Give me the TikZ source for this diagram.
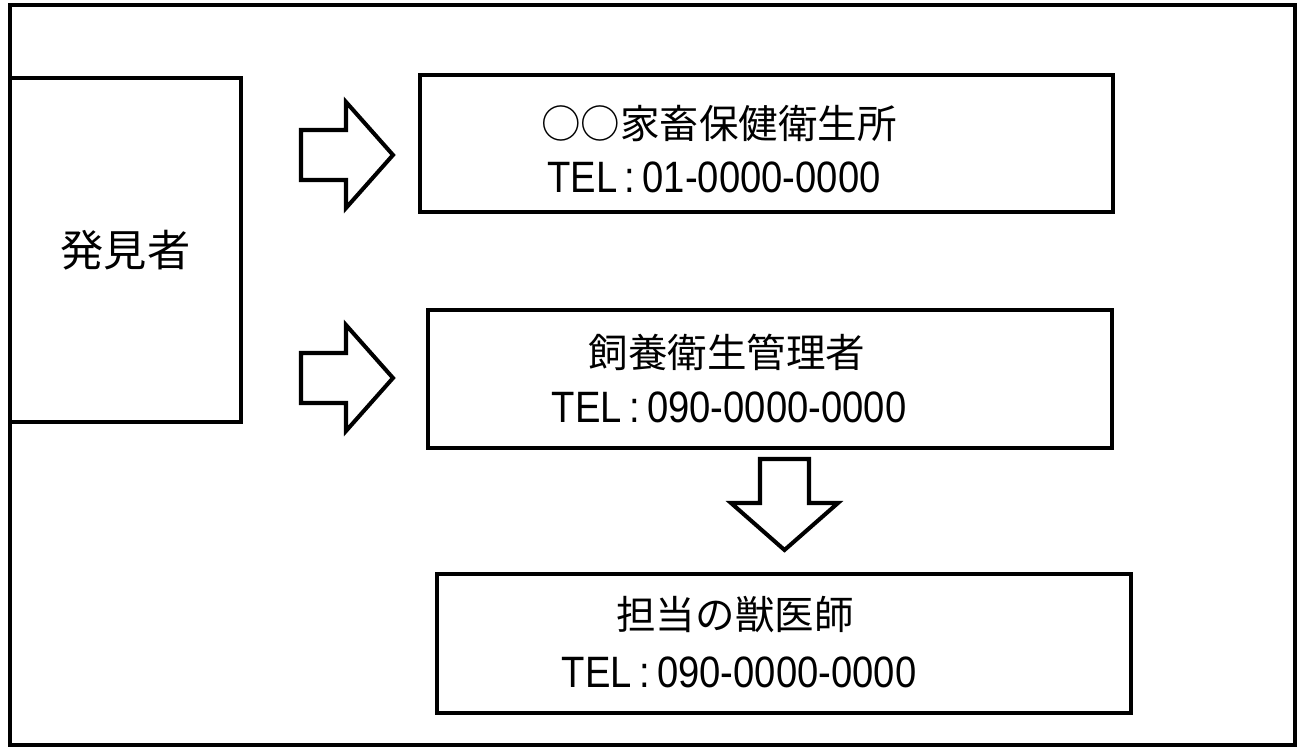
\documentclass[tikz,border=0pt]{standalone}
\usepackage{fontspec}
\setmainfont{Liberation Sans}
\newfontfamily\jp{Noto Sans CJK JP}
\newfontfamily\tel[FakeStretch=0.87]{Liberation Sans}
\usetikzlibrary{calc}

\tikzset{
  box/.style={draw, rectangle, inner sep=0pt},
  nametext/.style={inner sep=0pt, font=\jp\fontsize{22.5}{27}\selectfont},
  teltext/.style={inner sep=0pt, anchor=base, font=\tel\fontsize{25}{29}\selectfont},
}

\begin{document}
\begin{tikzpicture}[x=0.2mm, y=-0.2mm, line width=2.3pt]
        \useasboundingbox (0,0) rectangle (1303,749);
        \draw (10,5) rectangle (1295,745);

        \node[box, minimum width=46.2mm, minimum height=68.8mm, font=\jp\fontsize{24.6}{30}\selectfont] (hakken) at (125.5,250) {発見者};
        \node[box, minimum width=138.6mm, minimum height=27.4mm] (kachiku) at (766.5,143.5) {};
        \node[box, minimum width=136.8mm, minimum height=27.6mm] (kanri) at (770,379) {};
        \node[box, minimum width=138.8mm, minimum height=27.8mm] (juui) at (784,643.5) {};

        \node[nametext] (kachikuname) at (719,124) {○○家畜保健衛生所};
        \node[teltext] (kachikutel) at (714,193) {TEL\,:\,01-0000-0000};
        \node[nametext] (kanriname) at (727,352) {飼養衛生管理者};
        \node[teltext] (kanritel) at (729,423) {TEL\,:\,090-0000-0000};
        \node[nametext] (juuiname) at (735,615) {担当の獣医師};
        \node[teltext] (juuitel) at (739,687) {TEL\,:\,090-0000-0000};

        % right arrows
        \draw (301,130) -- (346,130) -- (346,102) -- (393,155) -- (346,208) -- (346,180) -- (301,180) -- cycle;
        \draw[shift={(0,223)}] (301,130) -- (346,130) -- (346,102) -- (393,155) -- (346,208) -- (346,180) -- (301,180) -- cycle;
        % down arrow
        \draw (760,459) -- (809,459) -- (809,503) -- (838,503) -- (784.5,550) -- (731,503) -- (760,503) -- cycle;
\end{tikzpicture}
\end{document}
